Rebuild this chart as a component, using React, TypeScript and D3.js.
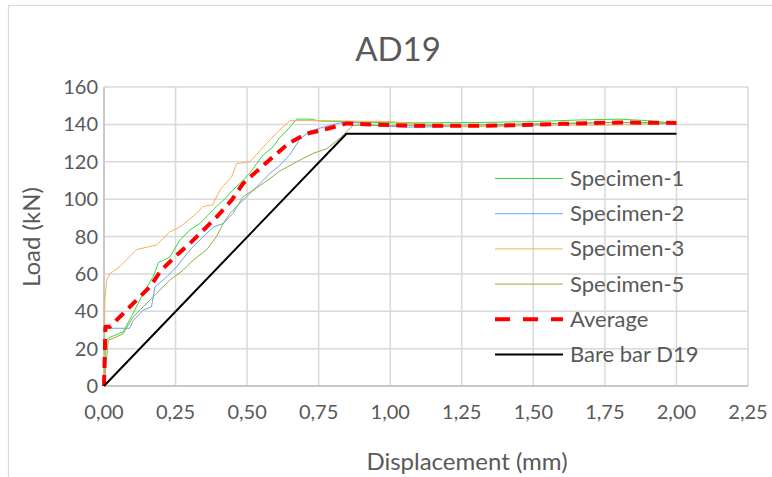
import React from 'react';
import * as d3 from 'd3';

const width = 772;
const height = 477;

type Pt = [number, number];

const xTicks = [0, 0.25, 0.5, 0.75, 1, 1.25, 1.5, 1.75, 2, 2.25];
const yTicks = [0, 20, 40, 60, 80, 100, 120, 140, 160];

const specimen1: Pt[] = [
  [0, 0], [0.006, 24.6], [0.02, 26], [0.067, 29], [0.102, 39], [0.137, 49.6], [0.172, 58.5],
  [0.19, 66], [0.23, 69], [0.265, 78], [0.3, 83.5], [0.335, 87], [0.37, 92.4], [0.393, 96],
  [0.428, 101], [0.451, 105], [0.486, 110], [0.51, 114], [0.533, 119], [0.556, 123.6],
  [0.591, 128], [0.614, 133], [0.635, 136], [0.655, 139.6], [0.673, 142.8], [0.72, 142.8],
  [0.755, 141.8], [0.85, 141.4], [0.95, 141], [1.1, 140.8], [1.3, 141], [1.5, 141.5],
  [1.65, 142.3], [1.8, 142.8], [1.9, 142], [2.0, 140.5],
];

const specimen2: Pt[] = [
  [0, 0], [0.003, 30.9], [0.09, 30.9], [0.102, 35], [0.137, 40.6], [0.166, 42.4], [0.178, 53],
  [0.22, 58.5], [0.254, 63.8], [0.3, 72.8], [0.347, 80], [0.382, 85], [0.417, 87], [0.44, 92.4],
  [0.475, 97.7], [0.51, 103], [0.545, 108.4], [0.58, 113.8], [0.614, 118], [0.65, 124],
  [0.684, 132], [0.72, 136.5], [0.8, 140], [0.85, 141.5], [0.95, 139.5], [1.05, 138.5],
  [1.2, 138.8], [1.4, 139.3], [1.6, 140.5], [1.75, 141], [1.9, 141], [2.0, 140.5],
];

const specimen3: Pt[] = [
  [0, 0], [0.003, 46], [0.01, 57], [0.02, 60], [0.056, 64], [0.114, 73], [0.184, 75.5],
  [0.23, 82.5], [0.265, 85], [0.324, 92.5], [0.346, 96], [0.38, 97], [0.405, 105],
  [0.446, 112], [0.463, 119], [0.51, 120], [0.568, 129.8], [0.614, 137], [0.65, 142],
  [0.75, 142], [0.9, 141.7], [1.0, 141.5], [1.1, 140], [1.25, 138.7], [1.4, 139],
  [1.5, 139.3], [1.6, 139.6], [1.75, 139.6], [1.9, 140], [2.0, 140.5],
];

const specimen5: Pt[] = [
  [0, 0], [0.015, 24.6], [0.032, 25.5], [0.067, 28], [0.102, 37], [0.137, 42.4], [0.184, 49.6],
  [0.23, 56.7], [0.277, 62], [0.312, 67.4], [0.358, 72.8], [0.393, 80], [0.417, 87],
  [0.451, 92.4], [0.486, 101.3], [0.533, 106], [0.58, 111], [0.614, 115], [0.673, 120],
  [0.731, 124.5], [0.778, 127], [0.824, 132.5], [0.847, 136], [0.87, 139.5], [1.0, 139.5],
  [1.2, 139.5], [1.4, 140], [1.6, 140.5], [1.8, 141], [2.0, 140.5],
];

const average: Pt[] = [
  [0, 0], [0.005, 31.7], [0.02, 31.7], [0.062, 38], [0.114, 46], [0.16, 53], [0.2, 62],
  [0.254, 70], [0.3, 76.3], [0.353, 84.3], [0.4, 91.5], [0.446, 99.5], [0.486, 108.4],
  [0.545, 116.5], [0.591, 122.7], [0.644, 129.8], [0.707, 135], [0.777, 137.5], [0.847, 140.5],
  [1.0, 139.6], [1.1, 139.2], [1.3, 139.2], [1.45, 139.6], [1.6, 140.3], [1.8, 141], [2.0, 140.8],
];

const bareBar: Pt[] = [[0, 0], [0.847, 135], [2.0, 135]];

const series = [
  { name: 'Specimen-1', data: specimen1, color: '#33dd33', w: 1, dash: '' },
  { name: 'Specimen-2', data: specimen2, color: '#6fa3ef', w: 1, dash: '' },
  { name: 'Specimen-3', data: specimen3, color: '#f5b060', w: 1, dash: '' },
  { name: 'Specimen-5', data: specimen5, color: '#8cb03c', w: 1, dash: '' },
  { name: 'Average', data: average, color: '#ff0000', w: 4, dash: '11 7' },
  { name: 'Bare bar D19', data: bareBar, color: '#000000', w: 2, dash: '' },
];

const font = 'Lato, "Open Sans", sans-serif';
const textColor = '#595959';
const gridColor = '#d9d9d9';

export default function App() {
  const x = d3.scaleLinear().domain([0, 2.25]).range([104, 748]);
  const y = d3.scaleLinear().domain([0, 160]).range([386, 87]);
  const line = d3.line<Pt>().x((d) => x(d[0])).y((d) => y(d[1]));

  return (
    <svg width={width} height={height} style={{ position: 'absolute', left: 0, top: 0, background: '#fff' }}>
      <rect x={8.5} y={5.5} width={800} height={520} fill="#fff" stroke={gridColor} strokeWidth={1.2} />
      {xTicks.slice(1).map((t) => (
        <line key={'gx' + t} x1={x(t)} x2={x(t)} y1={y(0)} y2={y(160)} stroke={gridColor} strokeWidth={1.5} />
      ))}
      {yTicks.slice(1).map((t) => (
        <line key={'gy' + t} x1={x(0)} x2={x(2.25)} y1={y(t)} y2={y(t)} stroke={gridColor} strokeWidth={1.5} />
      ))}
      <line x1={x(0)} x2={x(0)} y1={y(0)} y2={y(160)} stroke="#c8c8c8" strokeWidth={2} />
      <line x1={x(0)} x2={x(2.25)} y1={y(0)} y2={y(0)} stroke="#c8c8c8" strokeWidth={2} />

      {xTicks.map((t) => (
        <text key={'tx' + t} x={x(t)} y={419} textAnchor="middle" fontFamily={font} fontSize={20} fill={textColor}>
          {d3.format('.2f')(t).replace('.', ',')}
        </text>
      ))}
      {yTicks.map((t) => (
        <text key={'ty' + t} x={x(0) - 6} y={y(t) + 7} textAnchor="end" fontFamily={font} fontSize={20} fill={textColor}>
          {t}
        </text>
      ))}

      {series.map((s) => (
        <path key={s.name} d={line(s.data) || ''} fill="none" stroke={s.color} strokeWidth={s.w}
          strokeDasharray={s.dash || undefined} strokeLinejoin="round" />
      ))}

      {series.map((s, i) => {
        const ly = 178.5 + i * 35.2;
        return (
          <g key={'lg' + s.name}>
            <line x1={495} x2={563} y1={ly} y2={ly} stroke={s.color} strokeWidth={s.w}
              strokeDasharray={s.dash ? '15 13' : undefined} />
            <text x={570} y={ly + 7.5} fontFamily={font} fontSize={22} fill={textColor}>{s.name}</text>
          </g>
        );
      })}

      <text x={398} y={61} textAnchor="middle" fontFamily={font} fontSize={33} fill={textColor}>AD19</text>
      <text x={467} y={470} textAnchor="middle" fontFamily={font} fontSize={24} fill={textColor}>Displacement (mm)</text>
      <text transform="translate(40,237) rotate(-90)" textAnchor="middle" fontFamily={font} fontSize={24} fill={textColor}>
        Load (kN)
      </text>
    </svg>
  );
}
